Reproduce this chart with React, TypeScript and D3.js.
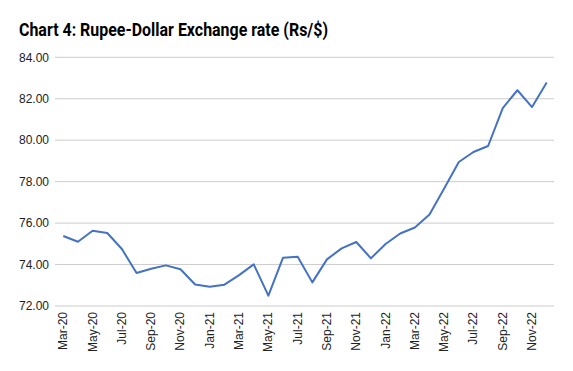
import React, { useEffect, useRef } from "react";
import * as d3 from "d3";

const months = [
  "Mar-20", "Apr-20", "May-20", "Jun-20", "Jul-20", "Aug-20", "Sep-20", "Oct-20", "Nov-20", "Dec-20",
  "Jan-21", "Feb-21", "Mar-21", "Apr-21", "May-21", "Jun-21", "Jul-21", "Aug-21", "Sep-21", "Oct-21",
  "Nov-21", "Dec-21", "Jan-22", "Feb-22", "Mar-22", "Apr-22", "May-22", "Jun-22", "Jul-22", "Aug-22",
  "Sep-22", "Oct-22", "Nov-22", "Dec-22",
];

const rates = [
  75.38, 75.1, 75.63, 75.52, 74.75, 73.59, 73.8, 73.96, 73.77, 73.04,
  72.93, 73.03, 73.49, 74.01, 72.5, 74.33, 74.38, 73.14, 74.25, 74.78,
  75.09, 74.3, 74.99, 75.5, 75.79, 76.42, 77.67, 78.95, 79.43, 79.72,
  81.55, 82.41, 81.6, 82.78,
];

const yTicks = [72, 74, 76, 78, 80, 82, 84];

const App = () => {
  const svgRef = useRef<SVGSVGElement>(null);

  useEffect(() => {
    const width = 573;
    const height = 371;
    const svg = d3.select(svgRef.current)
      .attr("width", width)
      .attr("height", height);

    svg.selectAll("*").remove();

    svg.append("rect")
      .attr("width", width)
      .attr("height", height)
      .attr("fill", "#fff");

    // title (condensed look via textLength)
    svg.append("text")
      .attr("x", 19)
      .attr("y", 36)
      .attr("font-family", "Roboto, sans-serif")
      .attr("font-weight", "bold")
      .attr("font-size", 18)
      .attr("textLength", 309)
      .attr("lengthAdjust", "spacingAndGlyphs")
      .attr("fill", "#000")
      .text("Chart 4: Rupee-Dollar Exchange rate (Rs/$)");

    const x = d3.scalePoint()
      .domain(months)
      .range([63.3, 546.7]);

    const y = d3.scaleLinear()
      .domain([72, 84])
      .range([306, 57.3]);

    // gridlines + y labels
    const grid = svg.append("g");
    grid.selectAll("line")
      .data(yTicks)
      .join("line")
      .attr("x1", 55)
      .attr("x2", 554)
      .attr("y1", d => y(d))
      .attr("y2", d => y(d))
      .attr("stroke", "#cccccc")
      .attr("stroke-width", 1);

    grid.selectAll("text")
      .data(yTicks)
      .join("text")
      .attr("x", 49)
      .attr("y", d => y(d))
      .attr("dy", "0.35em")
      .attr("text-anchor", "end")
      .attr("font-family", "'Liberation Sans', Arial, sans-serif")
      .attr("font-size", 12)
      .attr("fill", "#222")
      .text(d => d.toFixed(2));

    // x labels, every other month
    svg.append("g")
      .selectAll("text")
      .data(months.filter((_, i) => i % 2 === 0))
      .join("text")
      .attr("transform", d => `translate(${x(d)! + 4},312) rotate(-90)`)
      .attr("text-anchor", "end")
      .attr("font-family", "'Liberation Sans', Arial, sans-serif")
      .attr("font-size", 12)
      .attr("fill", "#222")
      .text(d => d);

    const line = d3.line<number>()
      .x((_, i) => x(months[i])!)
      .y(d => y(d));

    svg.append("path")
      .datum(rates)
      .attr("d", line)
      .attr("fill", "none")
      .attr("stroke", "#4472c4")
      .attr("stroke-width", 2)
      .attr("stroke-linejoin", "round");
  }, []);

  return <svg ref={svgRef} style={{ position: "absolute", left: 0, top: 0 }}></svg>;
};

export default App;
